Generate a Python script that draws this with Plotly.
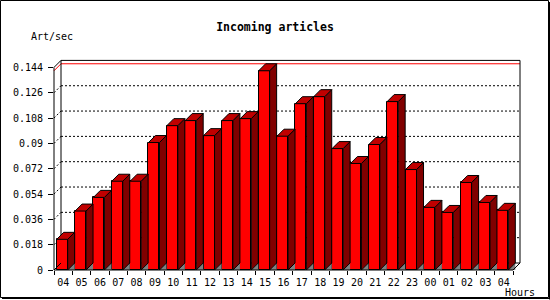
import plotly.graph_objects as go

# ---------------- data ----------------
hours = ["04", "05", "06", "07", "08", "09", "10", "11", "12", "13", "14", "15",
         "16", "17", "18", "19", "20", "21", "22", "23", "00", "01", "02", "03", "04"]
rates = [0.0218, 0.0419, 0.0516, 0.0631, 0.0631, 0.0906, 0.1026, 0.1062, 0.0955,
         0.1062, 0.1076, 0.1416, 0.0951, 0.1182, 0.1232, 0.0863, 0.0757, 0.0892,
         0.1197, 0.0714, 0.0445, 0.0409, 0.0622, 0.0480, 0.0424]
y_ticks = [0, 0.018, 0.036, 0.054, 0.072, 0.09, 0.108, 0.126, 0.144]
y_tick_text = ["0", "0.018", "0.036", "0.054", "0.072", "0.09", "0.108", "0.126", "0.144"]

# ---------------- geometry ----------------
IMG_W, IMG_H = 550, 300
L, R, T, B = 54, 30, 60, 30
PW, PH = IMG_W - L - R, IMG_H - T - B
DEPTH = 7.0                        # 3D depth in pixels
n = len(hours)
cat_px = (PW - DEPTH) / n          # pixels per category on the front plane
x_rng = [-0.5, n - 0.5 + DEPTH / cat_px]
y_top_tick = y_ticks[-1]
ky = (PH - DEPTH - 0.4) / y_top_tick   # pixels per unit
y_rng = [0, PH / ky]
dx = DEPTH / cat_px
dy = DEPTH / ky
BAR_W = 11.0 / cat_px
BAR_OFF = -1.0 / cat_px

FONT = "DejaVu Sans Mono"
RED, TOP, SIDE, FLOOR = "#ff0000", "#c00000", "#800000", "#808080"


def px_(v):  # data x -> paper
    return (v - x_rng[0]) / (x_rng[1] - x_rng[0])


def py_(v):  # data y -> paper
    return (v - y_rng[0]) / (y_rng[1] - y_rng[0])


def ppx(p):  # pixel x -> paper
    return (p - L) / PW


def ppy(p):  # pixel y -> paper
    return (IMG_H - B - p) / PH


xs = [i + BAR_OFF for i in range(n)]

fig = go.Figure()

# front faces
fig.add_trace(go.Bar(x=xs, y=rates, width=BAR_W,
                     marker=dict(color=RED, line=dict(color="black", width=1)),
                     hoverinfo="skip", showlegend=False))

# floor shadows, side faces and top faces built from the data
fx, fy, sx, sy, tx, ty = [], [], [], [], [], []
for x, v in zip(xs, rates):
    x0, x1 = x - BAR_W / 2, x + BAR_W / 2
    fx += [x1, x1 + dx, x1 + dx, x1, None]
    fy += [0, dy, 0, 0, None]
    sx += [x1, x1 + dx, x1 + dx, x1, x1, None]
    sy += [0, dy, v + dy, v, 0, None]
    tx += [x0, x0 + dx, x1 + dx, x1, x0, None]
    ty += [v, v + dy, v + dy, v, v, None]

fig.add_trace(go.Scatter(x=fx, y=fy, mode="lines", fill="toself", fillcolor=FLOOR,
                         line=dict(width=0, color=FLOOR), hoverinfo="skip", showlegend=False))
fig.add_trace(go.Scatter(x=sx, y=sy, mode="lines", fill="toself", fillcolor=SIDE,
                         line=dict(width=1, color="black"), hoverinfo="skip", showlegend=False))
fig.add_trace(go.Scatter(x=tx, y=ty, mode="lines", fill="toself", fillcolor=TOP,
                         line=dict(width=1, color="black"), hoverinfo="skip", showlegend=False))

shapes = []
bl, br = -0.5 + dx, n - 0.5 + dx
# dotted grid on back wall + left wall diagonals
for v in y_ticks[1:-1]:
    shapes.append(dict(type="line", xref="paper", yref="paper", layer="below",
                       x0=px_(bl), x1=px_(br), y0=py_(v + dy), y1=py_(v + dy),
                       line=dict(color="black", width=1, dash="2px,2px")))
    shapes.append(dict(type="line", xref="paper", yref="paper", layer="below",
                       x0=px_(-0.5), x1=px_(bl), y0=py_(v), y1=py_(v + dy),
                       line=dict(color="black", width=1, dash="2px,2px")))
# red max line
vmax = max(rates)
shapes.append(dict(type="line", xref="paper", yref="paper", layer="below",
                   x0=px_(bl), x1=px_(br), y0=py_(vmax + dy), y1=py_(vmax + dy),
                   line=dict(color="red", width=1)))
shapes.append(dict(type="line", xref="paper", yref="paper", layer="below",
                   x0=px_(-0.5), x1=px_(bl), y0=py_(vmax), y1=py_(vmax + dy),
                   line=dict(color="red", width=1)))
# back plane frame
shapes.append(dict(type="rect", xref="paper", yref="paper", layer="below",
                   x0=px_(bl), x1=px_(br), y0=py_(dy), y1=py_(y_top_tick + dy),
                   line=dict(color="black", width=1)))
# axes and diagonals
for (a, b, c, d) in [(-0.5, 0, -0.5, y_top_tick),
                     (-0.5, y_top_tick, bl, y_top_tick + dy),
                     (-0.5, 0, n - 0.5, 0),
                     (n - 0.5, 0, br, dy),
                     (-0.5, 0, bl, dy)]:
    shapes.append(dict(type="line", xref="paper", yref="paper", layer="above",
                       x0=px_(a), x1=px_(c), y0=py_(b), y1=py_(d),
                       line=dict(color="black", width=1)))
# outer border with shadow
shapes.append(dict(type="rect", xref="paper", yref="paper", layer="above",
                   x0=ppx(0.5), x1=ppx(548.5), y0=ppy(0.5), y1=ppy(297.5),
                   line=dict(color="black", width=1)))
shapes.append(dict(type="line", xref="paper", yref="paper", layer="above",
                   x0=ppx(549.5), x1=ppx(549.5), y0=ppy(2), y1=ppy(299.5),
                   line=dict(color="black", width=1)))
shapes.append(dict(type="line", xref="paper", yref="paper", layer="above",
                   x0=ppx(2), x1=ppx(549.5), y0=ppy(298.5), y1=ppy(298.5),
                   line=dict(color="black", width=1)))

annotations = [
    dict(text="Art/sec", xref="paper", yref="paper", x=ppx(29), y=ppy(37),
         xanchor="left", yanchor="middle", showarrow=False,
         font=dict(family=FONT, size=10, color="black")),
    dict(text="Hours", xref="paper", yref="paper", x=ppx(503), y=ppy(292),
         xanchor="left", yanchor="middle", showarrow=False,
         font=dict(family=FONT, size=10, color="black")),
]

fig.update_layout(
    width=IMG_W, height=IMG_H,
    margin=dict(l=L, r=R, t=T, b=B, pad=0),
    paper_bgcolor="white", plot_bgcolor="white",
    title=dict(text="<b>Incoming articles</b>", x=0.5, xanchor="center",
               xref="container", yref="container", y=1 - 27 / IMG_H, yanchor="middle",
               font=dict(family=FONT, size=11.5, color="black")),
    xaxis=dict(range=x_rng, tickvals=list(range(n)), ticktext=hours, ticks="",
               showgrid=False, zeroline=False, showline=False, fixedrange=True,
               ticklabelstandoff=5,
               tickfont=dict(family=FONT, size=10, color="black"),
               minor=dict(ticks="outside", tick0=-0.5, dtick=1, ticklen=4,
                          tickcolor="black", tickwidth=1, showgrid=False)),
    yaxis=dict(range=y_rng, tickvals=y_ticks, ticktext=y_tick_text, ticks="outside",
               ticklen=5, tickcolor="black", tickwidth=1, showgrid=False,
               zeroline=False, showline=False, fixedrange=True, ticklabelstandoff=3,
               tickfont=dict(family=FONT, size=10, color="black")),
    shapes=shapes, annotations=annotations,
    showlegend=False, bargap=0,
)

fig.write_html("out.html")
